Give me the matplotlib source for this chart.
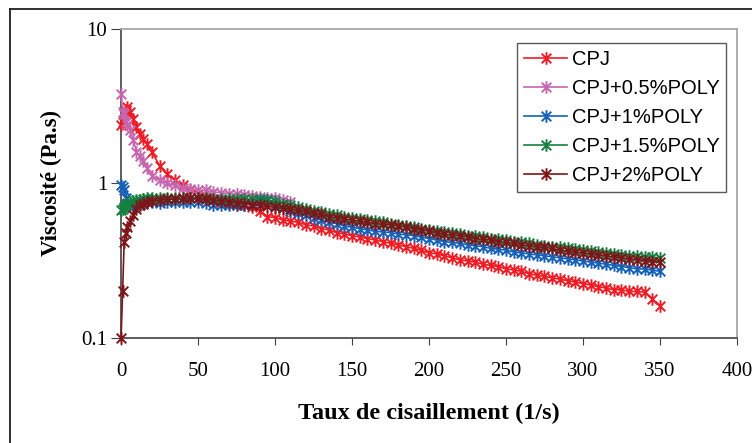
import matplotlib
matplotlib.use("Agg")
import matplotlib.pyplot as plt
from matplotlib.path import Path
from matplotlib.lines import Line2D


# shear rate (1/s)
shear = [0, 1, 2, 3, 4, 6, 8, 10, 12, 14, 17, 20,
         25, 30, 35, 40, 45, 50, 55, 60, 65, 70, 75, 80, 85, 90, 95, 100,
         105, 110, 115, 120, 125, 130, 135, 140, 145, 150, 155, 160, 165, 170,
         175, 180, 185, 190, 195, 200, 205, 210, 215, 220, 225, 230, 235, 240,
         245, 250, 255, 260, 265, 270, 275, 280, 285, 290, 295, 300, 305, 310,
         315, 320, 325, 330, 335, 340, 345, 350]

cpj = [2.4, 2.5, 2.8, 3.0, 3.1, 2.9, 2.6, 2.3, 2.1, 1.95, 1.8, 1.6,
       1.3, 1.15, 1.05, 0.97, 0.9, 0.86, 0.82, 0.79, 0.76, 0.74, 0.73, 0.72, 0.70, 0.66, 0.61, 0.60,
       0.58, 0.57, 0.56, 0.54, 0.53, 0.51, 0.50, 0.48, 0.47, 0.46, 0.45, 0.44, 0.43, 0.42,
       0.41, 0.40, 0.39, 0.38, 0.37, 0.355, 0.35, 0.34, 0.33, 0.32, 0.315, 0.31, 0.30, 0.295,
       0.29, 0.28, 0.275, 0.27, 0.26, 0.255, 0.25, 0.245, 0.24, 0.235, 0.23, 0.225, 0.22, 0.215,
       0.21, 0.205, 0.205, 0.20, 0.20, 0.198, 0.18, 0.16]

# 0.5% curve stops around 110 1/s
cpj_05 = [3.8, 2.9, 2.8, 2.5, 2.4, 2.2, 1.9, 1.6, 1.5, 1.4, 1.25, 1.12,
          1.05, 1.0, 0.97, 0.94, 0.92, 0.9, 0.9, 0.88, 0.87, 0.86, 0.85, 0.84, 0.83, 0.82, 0.81, 0.8,
          0.78, 0.76]

cpj_1 = [0.97, 0.95, 0.9, 0.8, 0.75, 0.72, 0.72, 0.73, 0.74, 0.75, 0.78, 0.76,
         0.75, 0.76, 0.76, 0.76, 0.76, 0.76, 0.75, 0.73, 0.72, 0.72, 0.72, 0.73, 0.74, 0.77, 0.78, 0.73,
         0.69, 0.66, 0.64, 0.62, 0.6, 0.58, 0.56, 0.55, 0.53, 0.52, 0.51, 0.5, 0.49, 0.485,
         0.48, 0.47, 0.465, 0.46, 0.45, 0.44, 0.43, 0.42, 0.415, 0.41, 0.40, 0.395, 0.39, 0.38,
         0.375, 0.37, 0.36, 0.355, 0.35, 0.345, 0.34, 0.335, 0.33, 0.325, 0.32, 0.315, 0.31, 0.305,
         0.30, 0.295, 0.29, 0.285, 0.28, 0.28, 0.275, 0.27]

cpj_15 = [0.67, 0.68, 0.7, 0.72, 0.74, 0.76, 0.77, 0.78, 0.78, 0.79, 0.8, 0.8,
          0.8, 0.8, 0.8, 0.8, 0.8, 0.8, 0.8, 0.79, 0.79, 0.79, 0.79, 0.79, 0.79, 0.79, 0.78, 0.77,
          0.74, 0.72, 0.70, 0.68, 0.66, 0.65, 0.63, 0.62, 0.61, 0.6, 0.59, 0.58, 0.57, 0.56,
          0.55, 0.54, 0.53, 0.52, 0.51, 0.5, 0.49, 0.485, 0.48, 0.47, 0.46, 0.455, 0.45, 0.44,
          0.435, 0.43, 0.42, 0.415, 0.41, 0.40, 0.395, 0.39, 0.385, 0.38, 0.375, 0.37, 0.365, 0.36,
          0.355, 0.35, 0.345, 0.34, 0.338, 0.335, 0.333, 0.33]

cpj_2 = [0.1, 0.2, 0.42, 0.48, 0.52, 0.57, 0.62, 0.68, 0.72, 0.74, 0.76, 0.77,
         0.78, 0.79, 0.79, 0.8, 0.8, 0.8, 0.79, 0.78, 0.77, 0.76, 0.75, 0.74, 0.73, 0.72, 0.71, 0.7,
         0.69, 0.68, 0.67, 0.66, 0.64, 0.63, 0.61, 0.6, 0.59, 0.58, 0.57, 0.56, 0.55, 0.545,
         0.54, 0.53, 0.52, 0.51, 0.5, 0.49, 0.48, 0.47, 0.465, 0.46, 0.45, 0.44, 0.435, 0.43,
         0.42, 0.415, 0.41, 0.40, 0.395, 0.39, 0.385, 0.38, 0.37, 0.365, 0.36, 0.355, 0.35, 0.345,
         0.34, 0.335, 0.33, 0.325, 0.32, 0.315, 0.31, 0.31]

labels = ["CPJ", "CPJ+0.5%POLY", "CPJ+1%POLY", "CPJ+1.5%POLY", "CPJ+2%POLY"]
colors = ["#ed1c24", "#c665b0", "#1560b8", "#138040", "#7f1418"]

# excel style star: an x with a vertical bar
star = Path([(-1, -1), (1, 1), (-1, 1), (1, -1), (0, -1.3), (0, 1.3)],
            [Path.MOVETO, Path.LINETO, Path.MOVETO, Path.LINETO, Path.MOVETO, Path.LINETO])

fig = plt.figure(figsize=(7.52, 4.43), dpi=100)
ax = fig.add_axes([0.161, 0.237, 0.819, 0.698])

series = [cpj, cpj_05, cpj_1, cpj_15, cpj_2]
for vals, lab, col in zip(series, labels, colors):
    ax.plot(shear[:len(vals)], vals, color=col, lw=1.2, marker=star, ms=9,
            mec=col, mew=1.4, label=lab, clip_on=False, zorder=3)

ax.set_yscale("log")
ax.set_ylim(0.1, 10)
ax.set_xlim(0, 400)
ax.set_xticks(range(0, 401, 50))
ax.set_yticks([0.1, 1, 10])
ax.set_yticklabels(["0.1", "1", "10"])
ax.minorticks_off()

serif = "Liberation Serif"
for t in ax.get_xticklabels() + ax.get_yticklabels():
    t.set_fontfamily(serif)
    t.set_fontsize(15)
ax.tick_params(axis="x", direction="out", length=5, pad=12, color="#404040")
ax.tick_params(axis="y", direction="out", length=7, pad=3, color="#404040")

ax.spines["left"].set_color("#505050")
ax.spines["bottom"].set_color("#505050")
ax.spines["top"].set_color("#a8a8a8")
ax.spines["right"].set_color("#a8a8a8")
for s in ax.spines.values():
    s.set_linewidth(1.3)

ax.set_xlabel("Taux de cisaillement (1/s)", fontfamily=serif, fontweight="bold",
              fontsize=17.5, labelpad=16)
ax.set_ylabel("Viscosité (Pa.s)", fontfamily=serif, fontweight="bold",
              fontsize=16.5, labelpad=14)

leg = ax.legend(loc="upper right", bbox_to_anchor=(0.983, 0.955), prop={"family": "Liberation Sans", "size": 14.5},
                frameon=True, fancybox=False, edgecolor="#303030", handlelength=2.1,
                handletextpad=0.25, labelspacing=0.5, borderpad=0.35, borderaxespad=0.0)
leg.get_frame().set_linewidth(1.0)

# outer chart frame (left and top edges only)
fig.add_artist(Line2D([0.0133, 0.0133], [0.98, 0.0], color="#202020", lw=1.3))
fig.add_artist(Line2D([0.0133, 1.0], [0.98, 0.98], color="#202020", lw=1.3))

fig.savefig("out.png", dpi=100)
